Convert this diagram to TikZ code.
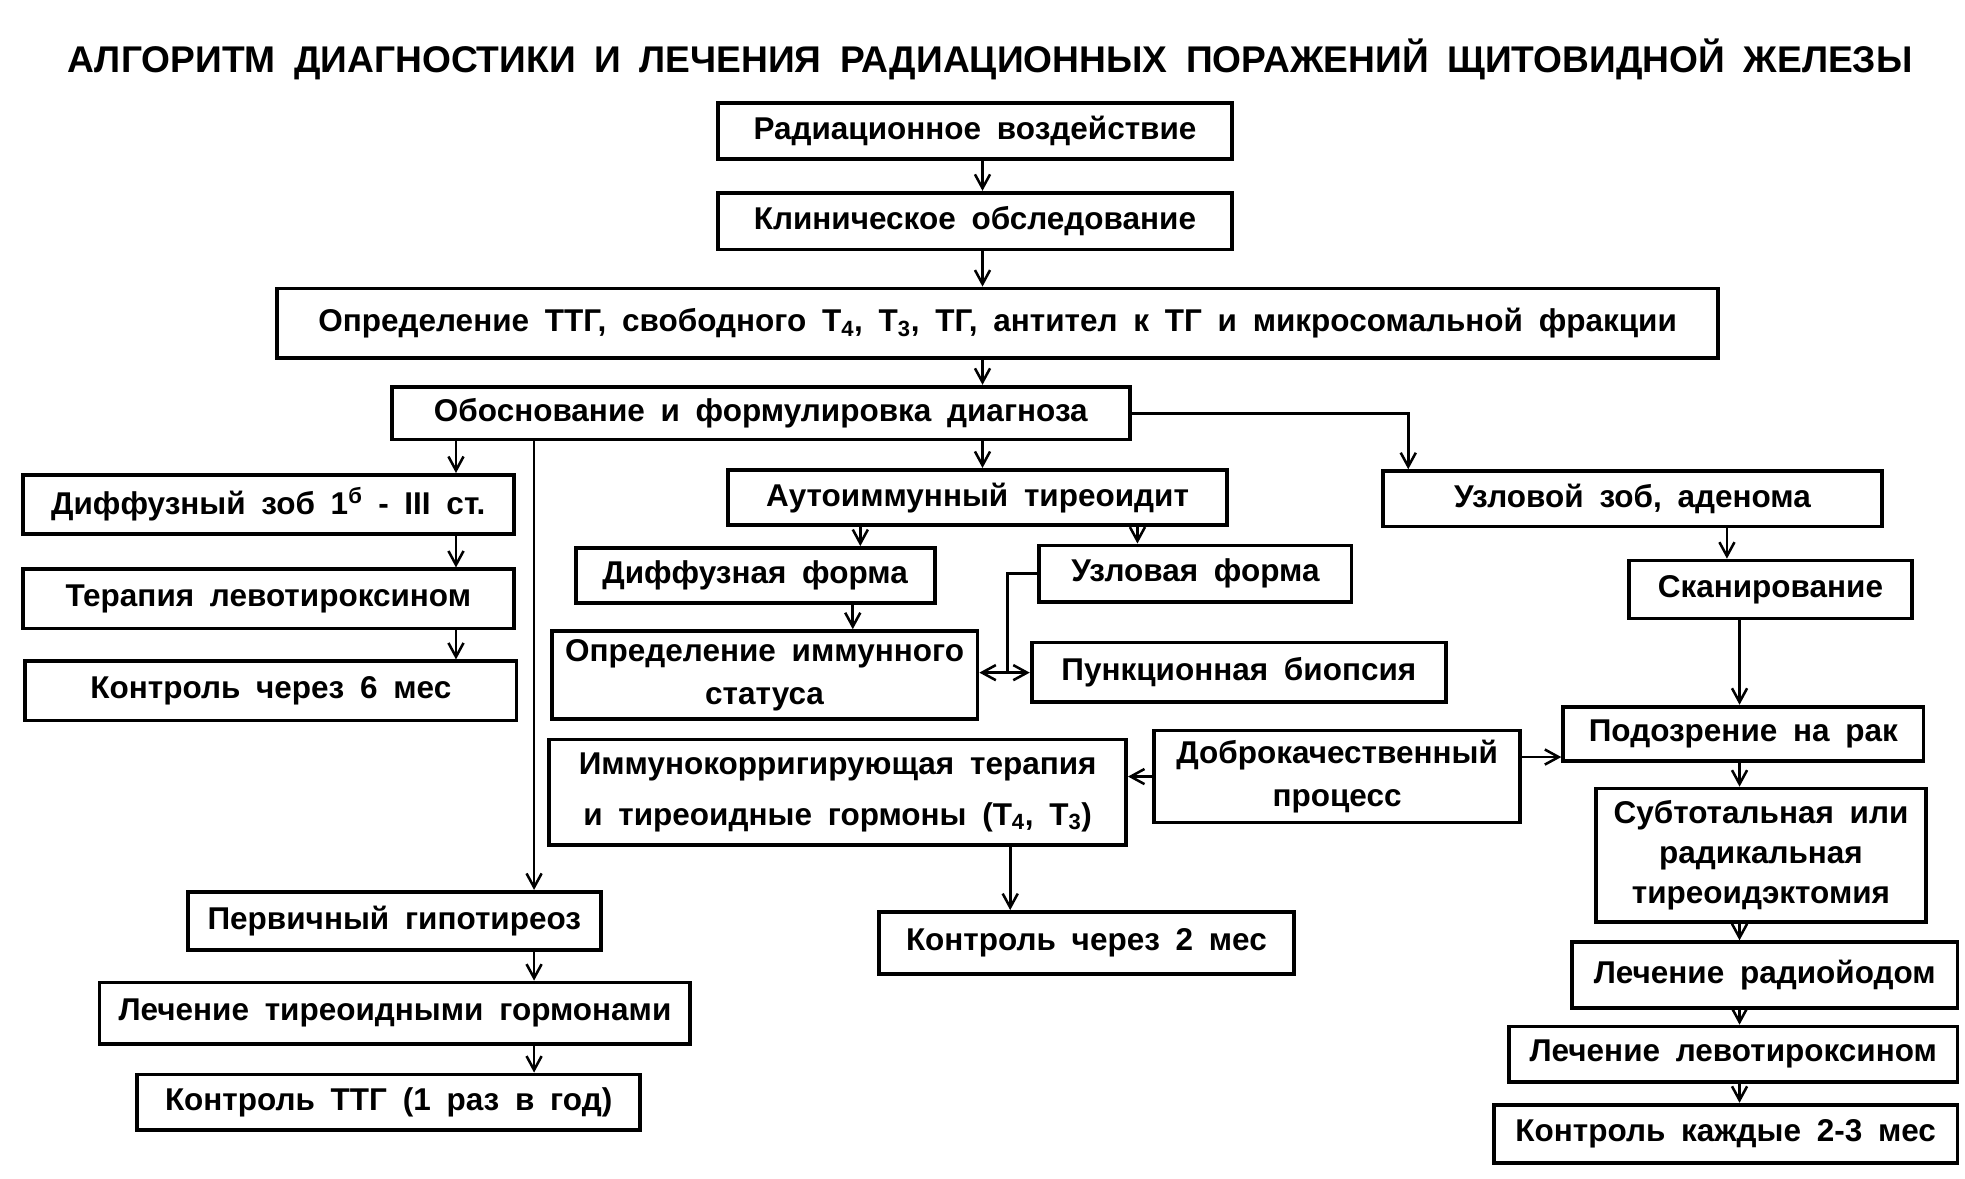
\documentclass[tikz,border=0pt]{standalone}
\usepackage{fontspec}
\setmainfont{Liberation Sans}[WordSpace=1.8]
\usetikzlibrary{arrows.meta}

\tikzset{
  box/.style={draw, line width=3pt, inner sep=0pt, align=center,
    font=\bfseries\fontsize{25}{34}\selectfont},
  arr/.style={line width=2.2pt, -{Straight Barb[length=11pt,width=12pt,line width=2pt]}},
  link/.style={line width=2.2pt},
}

\begin{document}
\begin{tikzpicture}[x=1pt, y=-1pt]
\useasboundingbox (0,0) rectangle (1560,936);

\node[font=\bfseries\fontsize{29.5}{34}\selectfont] (title) at (786,47)
  {АЛГОРИТМ ДИАГНОСТИКИ И ЛЕЧЕНИЯ РАДИАЦИОННЫХ ПОРАЖЕНИЙ ЩИТОВИДНОЙ ЖЕЛЕЗЫ};

% top column
\node[box, minimum width=408pt, minimum height=44pt] (rad) at (774,104) {Радиационное воздействие};
\node[box, minimum width=408pt, minimum height=45pt] (klin) at (774,175.5) {Клиническое обследование};
\node[box, minimum width=1144pt, minimum height=55pt] (opr) at (792,256.5)
  {Определение ТТГ, свободного Т\textsubscript{4}, Т\textsubscript{3}, ТГ, антител к ТГ и микросомальной фракции};
\node[box, minimum width=586pt, minimum height=42pt] (obos) at (604,328) {Обоснование и формулировка диагноза};

% left
\node[box, minimum width=390pt, minimum height=47pt] (diffzob) at (213,400.5) {Диффузный зоб 1\textsuperscript{б} - III ст.};
\node[box, minimum width=390pt, minimum height=47pt] (terap) at (213,475.5) {Терапия левотироксином};
\node[box, minimum width=390pt, minimum height=47pt] (kontr6) at (215,548.5) {Контроль через 6 мес};
\node[box, minimum width=328pt, minimum height=46pt] (perv) at (313,731) {Первичный гипотиреоз};
\node[box, minimum width=469pt, minimum height=49pt] (lechtir) at (313.5,804.5) {Лечение тиреоидными гормонами};
\node[box, minimum width=399pt, minimum height=44pt] (kontrttg) at (308.5,875) {Контроль ТТГ (1 раз в год)};

% middle
\node[box, minimum width=396pt, minimum height=44pt] (autoimm) at (776,395) {Аутоиммунный тиреоидит};
\node[box, minimum width=285pt, minimum height=44pt] (diffform) at (599.5,457) {Диффузная форма};
\node[box, minimum width=248pt, minimum height=45pt] (uzlform) at (949,455.5) {Узловая форма};
\node[box, minimum width=338pt, minimum height=70pt] (immstat) at (607,536) {Определение иммунного\\статуса};
\node[box, minimum width=329pt, minimum height=47pt] (punk) at (983.5,533.5) {Пункционная биопсия};
\node[box, minimum width=458pt, minimum height=84pt] (immkor) at (665,629)
  {Иммунокорригирующая терапия\\[6pt]и тиреоидные гормоны (Т\textsubscript{4}, Т\textsubscript{3})};
\node[box, minimum width=291pt, minimum height=73pt] (dobro) at (1061.5,616.5) {Доброкачественный\\процесс};
\node[box, minimum width=329pt, minimum height=49pt] (kontr2) at (862.5,748.5) {Контроль через 2 мес};

% right
\node[box, minimum width=396pt, minimum height=44pt] (uzlzob) at (1296,396) {Узловой зоб, аденома};
\node[box, minimum width=225pt, minimum height=46pt] (skan) at (1405.5,468) {Сканирование};
\node[box, minimum width=286pt, minimum height=43pt] (podoz) at (1384,582.5) {Подозрение на рак};
\node[box, minimum width=262pt, minimum height=106pt, font=\bfseries\fontsize{25}{31.5}\selectfont] (subtot) at (1398,679)
  {Субтотальная или\\радикальная\\тиреоидэктомия};
\node[box, minimum width=306pt, minimum height=52pt] (radioiod) at (1401,774) {Лечение радиойодом};
\node[box, minimum width=356pt, minimum height=44pt] (levo) at (1376,837) {Лечение левотироксином};
\node[box, minimum width=368pt, minimum height=46pt] (kontr23) at (1370,900) {Контроль каждые 2-3 мес};

% connector columns
\coordinate (cA) at (362,0);
\coordinate (cB) at (424,0);
\coordinate (cC) at (780,0);
\coordinate (cD) at (683,0);
\coordinate (cD2) at (677,0);
\coordinate (cE) at (903,0);
\coordinate (cF) at (1118,0);
\coordinate (cG) at (1371,0);
\coordinate (cG2) at (1381,0);
\coordinate (cH) at (802,0);
\coordinate (split) at (800,534);
\coordinate (yDP) at (0,601);

\foreach \a/\b in {rad/klin, klin/opr, opr/obos, obos/autoimm}
  \draw[arr] (\a.south -| cC) -- (\b.north -| cC);
\foreach \a/\b in {obos/diffzob, diffzob/terap, terap/kontr6}
  \draw[arr] (\a.south -| cA) -- (\b.north -| cA);
\foreach \a/\b in {obos/perv, perv/lechtir, lechtir/kontrttg}
  \draw[arr] (\a.south -| cB) -- (\b.north -| cB);
\foreach \a/\b in {skan/podoz, podoz/subtot, subtot/radioiod, radioiod/levo, levo/kontr23}
  \draw[arr] (\a.south -| cG2) -- (\b.north -| cG2);

\draw[arr] (obos.east) -| (uzlzob.north -| cF);
\draw[arr] (autoimm.south -| cD) -- (diffform.north -| cD);
\draw[arr] (autoimm.south -| cE) -- (uzlform.north -| cE);
\draw[arr] (diffform.south -| cD2) -- (immstat.north -| cD2);
\draw[arr] (uzlzob.south -| cG) -- (skan.north -| cG);
\draw[link] (uzlform.west) -| (split);
\draw[arr] (split) -- (split -| immstat.east);
\draw[arr] (split) -- (split -| punk.west);
\draw[arr] (dobro.east |- yDP) -- (podoz.west |- yDP);
\draw[arr] (dobro.west) -- (dobro.west -| immkor.east);
\draw[arr] (immkor.south -| cH) -- (kontr2.north -| cH);
\end{tikzpicture}
\end{document}
